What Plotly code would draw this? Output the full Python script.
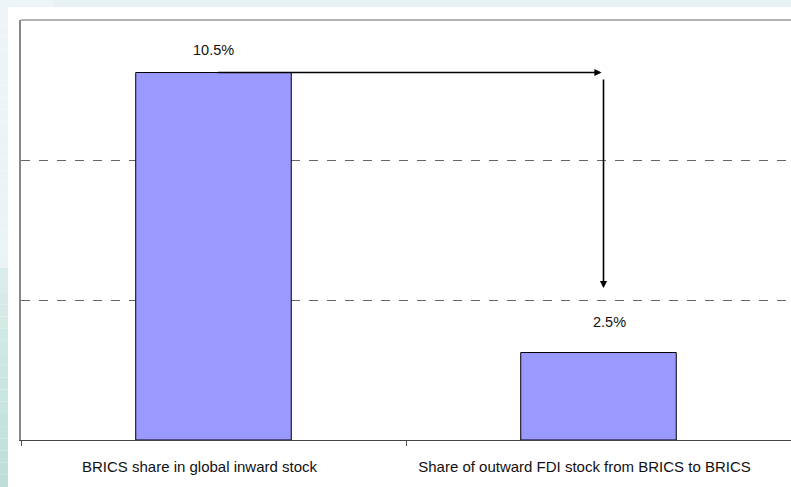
import plotly.graph_objects as go

categories = ["BRICS share in global inward stock", "Share of outward FDI stock from BRICS to BRICS"]
values = [10.5, 2.5]
value_labels = ["10.5%", "2.5%"]
y_ticks = [0, 4, 8, 12]

FONT = "Liberation Sans, Arial, sans-serif"

fig = go.Figure()
fig.add_trace(go.Bar(
    x=categories, y=values, width=0.404,
    marker=dict(color="#9999FF", line=dict(color="#000000", width=1)),
    hoverinfo="skip",
))

# value labels
fig.add_annotation(x=0, y=11.14, xref="x", yref="y", text=value_labels[0], showarrow=False,
                   font=dict(family=FONT, size=14.5, color="#111111"))
fig.add_annotation(x=1.028, y=3.37, xref="x", yref="y", text=value_labels[1], showarrow=False,
                   font=dict(family=FONT, size=14.5, color="#111111"))

# horizontal arrow
fig.add_annotation(x=1.008, y=values[0], ax=0.008, ay=values[0], xref="x", yref="y",
                   axref="x", ayref="y", text="", showarrow=True, arrowhead=2,
                   arrowsize=0.9, arrowwidth=1.6, arrowcolor="#000000")
# vertical arrow
fig.add_annotation(x=1.013, y=4.34, ax=1.013, ay=10.34, xref="x", yref="y",
                   axref="x", ayref="y", text="", showarrow=True, arrowhead=2,
                   arrowsize=0.9, arrowwidth=1.6, arrowcolor="#000000")

W, H = 791, 487
L, T, R, B = 21, 20, 0, 47
pw, ph = W - L - R, H - T - B
def px_x(v):
    return (v - L) / pw
def px_y(v):
    return (H - B - v) / ph

# top light band
fig.add_shape(type="rect", xref="paper", yref="paper", x0=px_x(0), x1=px_x(W), y0=px_y(7), y1=px_y(0),
              line=dict(width=0), fillcolor="#E8F1F3", layer="below")
fig.add_shape(type="rect", xref="paper", yref="paper", x0=px_x(0), x1=px_x(53), y0=px_y(7), y1=px_y(0),
              line=dict(width=0), fillcolor="#EEF5F8", layer="below")

# left gradient strip (light at top, teal towards bottom)
def lerp(c1, c2, t):
    return "#%02X%02X%02X" % tuple(round(a + (b - a) * t) for a, b in zip(c1, c2))
top_c = (0xEE, 0xF4, 0xF8)
mid_c = (0xEA, 0xF3, 0xF5)
bot_c = (0xBC, 0xDF, 0xD7)
steps = 40
for i in range(steps):
    y0 = H * i / steps
    y1 = H * (i + 1) / steps
    ym = (y0 + y1) / 2
    if ym < 270:
        c = lerp(top_c, mid_c, ym / 270)
    else:
        c = lerp((0xDA, 0xED, 0xEA), bot_c, (ym - 270) / (H - 270))
    fig.add_shape(type="rect", xref="paper", yref="paper", x0=px_x(0), x1=px_x(8),
                  y0=px_y(y1), y1=px_y(y0), line=dict(width=0), fillcolor=c, layer="below")

fig.update_layout(
    width=W, height=H,
    margin=dict(l=L, r=R, t=T, b=B, pad=0),
    paper_bgcolor="#FFFFFF",
    plot_bgcolor="#FFFFFF",
    showlegend=False,
    font=dict(family=FONT, size=15, color="#111111"),
    xaxis=dict(
        type="category", range=[-0.5, 1.5],
        showline=True, linecolor="#444444", linewidth=1,
        mirror=False, showgrid=False, zeroline=False,
        ticks="outside", tickson="boundaries", ticklen=5, tickcolor="#555555",
        tickfont=dict(family=FONT, size=15, color="#111111"),
        ticklabelshift=-14, ticklabelstandoff=13,
    ),
    yaxis=dict(
        range=[0, 12], tickvals=y_ticks, showticklabels=False,
        showline=True, linecolor="#888888", linewidth=1.5,
        showgrid=True, gridcolor="#666666", griddash="dash", gridwidth=1,
        zeroline=False, ticks="",
    ),
)
# top border of plot area
fig.add_shape(type="line", xref="paper", yref="paper", x0=0, x1=1, y0=1, y1=1,
              line=dict(color="#999999", width=1.5))

fig.write_html("out.html")
